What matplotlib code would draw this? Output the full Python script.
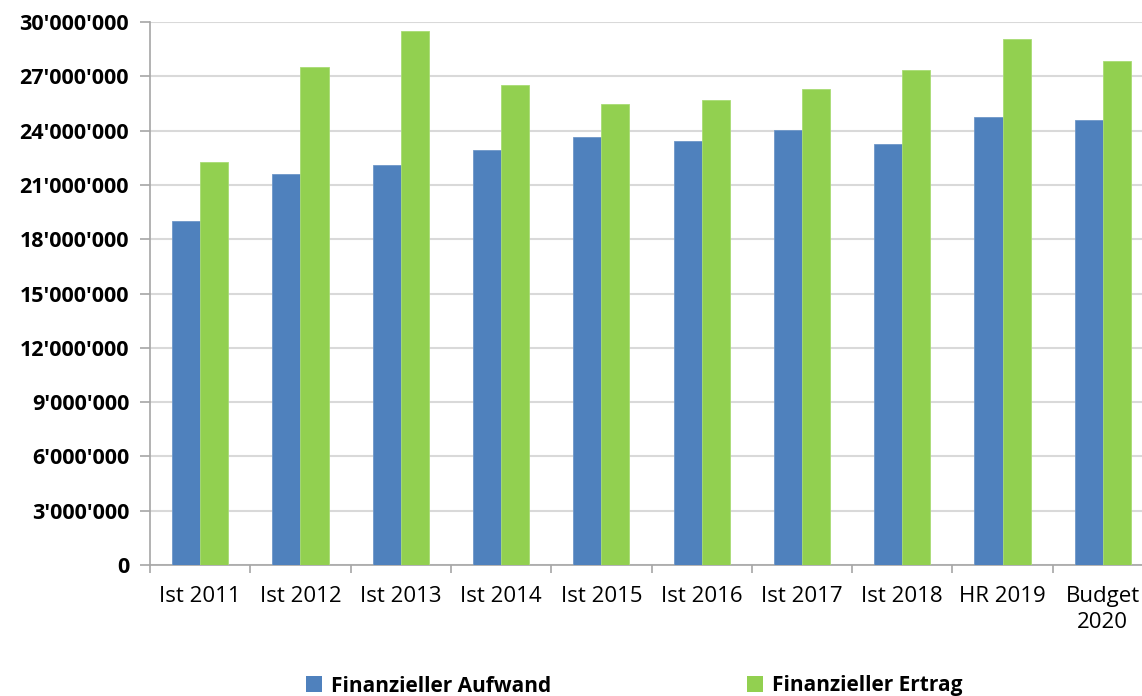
import numpy as np
import matplotlib.pyplot as plt
from matplotlib.ticker import FuncFormatter
from matplotlib.patches import Patch

# DATA
categories = ["Ist 2011", "Ist 2012", "Ist 2013", "Ist 2014", "Ist 2015",
              "Ist 2016", "Ist 2017", "Ist 2018", "HR 2019", "Budget\n2020"]
aufwand = [19.02e6, 21.60e6, 22.08e6, 22.95e6, 23.65e6,
           23.44e6, 24.02e6, 23.28e6, 24.77e6, 24.59e6]
ertrag = [22.25e6, 27.50e6, 29.52e6, 26.50e6, 25.45e6,
          25.70e6, 26.28e6, 27.37e6, 29.08e6, 27.86e6]
series_names = ["Finanzieller Aufwand", "Finanzieller Ertrag"]

BLUE = "#4F81BD"
GREEN = "#92D050"

plt.rcParams['font.family'] = ['Open Sans', 'DejaVu Sans']

fig = plt.figure(figsize=(11.42, 6.96), dpi=100)
W, H = 1142, 696
left, right, top, bottom = 150, 1153, 22, 565
ax = fig.add_axes([left / W, 1 - bottom / H, (right - left) / W, (bottom - top) / H])

x = np.arange(len(categories))
bw = 0.28
ax.bar(x - bw / 2, aufwand, bw, color=BLUE, edgecolor="#6E97C8", linewidth=0.6, zorder=3)
ax.bar(x + bw / 2, ertrag, bw, color=GREEN, edgecolor="#A8DC74", linewidth=0.6, zorder=3)

# AXES
ax.set_xlim(-0.5, len(categories) - 0.5)
ax.set_ylim(0, 30e6)
ax.set_yticks(np.arange(0, 30e6 + 1, 3e6))
ax.yaxis.set_major_formatter(FuncFormatter(lambda v, p: f"{int(v):,}".replace(",", "'")))
for lab in ax.get_yticklabels():
    lab.set_fontweight("bold")
    lab.set_fontsize(15.5)

ax.set_xticks(x)
ax.set_xticklabels(categories, fontsize=16, linespacing=1.3)
ax.set_xticks(np.arange(-0.5, len(categories)), minor=True)
ax.tick_params(axis="x", which="major", length=0, pad=15)
ax.tick_params(axis="x", which="minor", length=6, color="#A6A6A6", width=1.2)
ax.tick_params(axis="y", length=7, color="#A6A6A6", width=1.2, pad=8)

ax.grid(axis="y", color="#D9D9D9", linewidth=1.5, zorder=0)
for s in ["top", "right"]:
    ax.spines[s].set_visible(False)
for s in ["left", "bottom"]:
    ax.spines[s].set_color("#A6A6A6")
    ax.spines[s].set_linewidth(1.2)

# LEGEND
handles = [Patch(facecolor=BLUE), Patch(facecolor=GREEN)]
fig.legend(handles, series_names, loc="center", bbox_to_anchor=(634 / W, 1 - 686 / H),
           ncol=2, frameon=False, columnspacing=9.4, handlelength=0.8, handleheight=0.8,
           handletextpad=0.4, prop={"weight": "bold", "size": 15})

fig.savefig("out.png", dpi=100)
